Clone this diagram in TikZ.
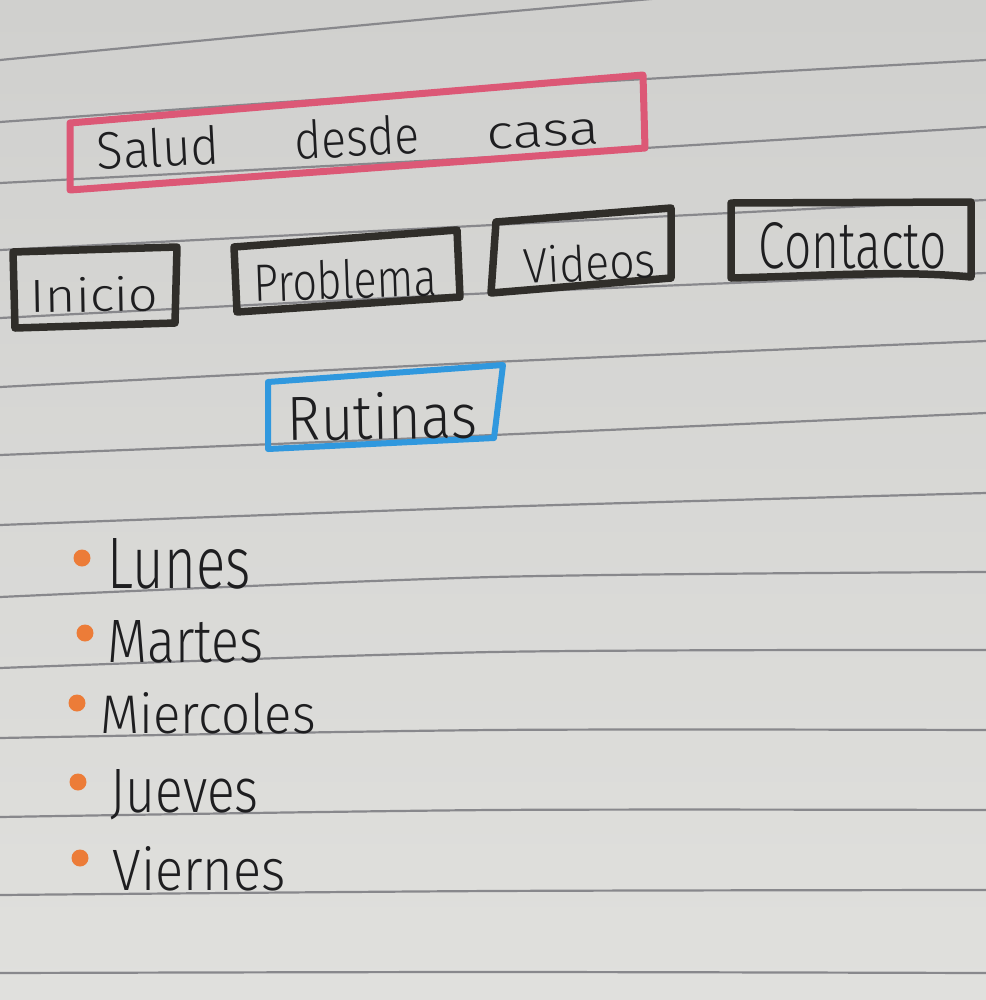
\documentclass[tikz,border=0pt]{standalone}
\usepackage{fontspec}
\usepackage{graphicx}
\IfFontExistsTF{Fira Sans Light}{\newfontfamily\inkfont{Fira Sans Light}}{\newfontfamily\inkfont{Fira Sans}}
\definecolor{paperTop}{RGB}{208,208,206}
\definecolor{paperMid}{RGB}{226,226,223}
\definecolor{paperBot}{RGB}{224,224,221}
\definecolor{ruling}{RGB}{136,136,140}
\definecolor{ink}{RGB}{30,30,32}
\definecolor{marker}{RGB}{48,46,42}
\definecolor{pinkred}{RGB}{220,88,118}
\definecolor{skyblue}{RGB}{48,152,222}
\definecolor{dotorange}{RGB}{236,124,56}
% a word squeezed to a given width and height (in mm)
\newcommand{\inkword}[3]{\resizebox{#1mm}{#2mm}{#3}}

\begin{document}
\begin{tikzpicture}[x=0.1mm,y=-0.1mm,
  ruled/.style={draw=ruling,line width=0.22mm},
  markerbox/.style={draw=marker,line width=0.75mm,line join=round,line cap=round},
  titlebox/.style={draw=pinkred,line width=0.7mm,line join=round},
  sectionbox/.style={draw=skyblue,line width=0.6mm,line join=round},
  hand/.style={font=\inkfont,text=ink,inner sep=0pt,anchor=base west},
  bulletdot/.style={fill=dotorange,draw=none,circle,minimum size=1.7mm,inner sep=0pt}]

\useasboundingbox (0,0) rectangle (986,1000);
\clip (0,0) rectangle (986,1000);

% notebook page
\shade[top color=paperTop,middle color=paperMid,bottom color=paperBot] (0,0) rectangle (986,1000);
\foreach \l/\m/\r in {60/13/-30, 122/88/60, 183/157/127, 250/225/200, 318/293/273,
                      387/362/341, 455/435/413, 525/507/493, 597/577/572, 668/652/650,
                      738/730/730, 817/810/810, 895/891/890, 973/972/973}
  \draw[ruled] plot[smooth] coordinates {(0,\l) (493,\m) (986,\r)};

% header
\draw[titlebox] (70,123) -- (643,75) -- (645,148) -- (70,190) -- cycle;
\node[hand,rotate=3] (title) at (97,170)
  {\inkword{12.3}{3.9}{Salud}\hspace{7.5mm}\inkword{12.5}{3.9}{desde}\hspace{6.7mm}\inkword{11.3}{2.5}{casa}};

% menu
\draw[markerbox] (13,252) -- (177,247) -- (175,323) -- (15,328) -- cycle;
\node[hand,rotate=1] (inicio) at (30,313) {\inkword{12.8}{3.5}{Inicio}};

\draw[markerbox] (234,247) -- (457,230) -- (460,297) -- (237,312) -- cycle;
\node[hand,rotate=2] (problema) at (254,302) {\inkword{18.3}{3.9}{Problema}};

\draw[markerbox] (496,222) -- (671,208) -- (671,278) -- (491,293) -- cycle;
\node[hand,rotate=3] (videos) at (524,284) {\inkword{13.2}{3.7}{Videos}};

\draw[markerbox] (731,203) -- (971,202) -- (971,277) .. controls (900,270) and (820,276) .. (731,278) -- cycle;
\node[hand] (contacto) at (758,268) {\inkword{18.8}{4.6}{Contacto}};

% section
\draw[sectionbox] (268,382) -- (503,365) -- (494,438) -- (268,449) -- cycle;
\node[hand,rotate=1] (rutinas) at (287,441) {\inkword{19.0}{4.7}{Rutinas}};

% list of days
\node[bulletdot] (b1) at (82,558) {};
\node[hand] (lunes) at (107,588) {\inkword{14.3}{5.0}{Lunes}};
\node[bulletdot] (b2) at (85,633) {};
\node[hand] (martes) at (107,662) {\inkword{15.6}{4.2}{Martes}};
\node[bulletdot] (b3) at (77,703) {};
\node[hand] (miercoles) at (100,733) {\inkword{21.5}{4.1}{Miercoles}};
\node[bulletdot] (b4) at (78,782) {};
\node[hand] (jueves) at (110,812) {\inkword{14.8}{4.3}{Jueves}};
\node[bulletdot] (b5) at (80,858) {};
\node[hand] (viernes) at (112,890) {\inkword{17.3}{4.4}{Viernes}};
\end{tikzpicture}
\end{document}
